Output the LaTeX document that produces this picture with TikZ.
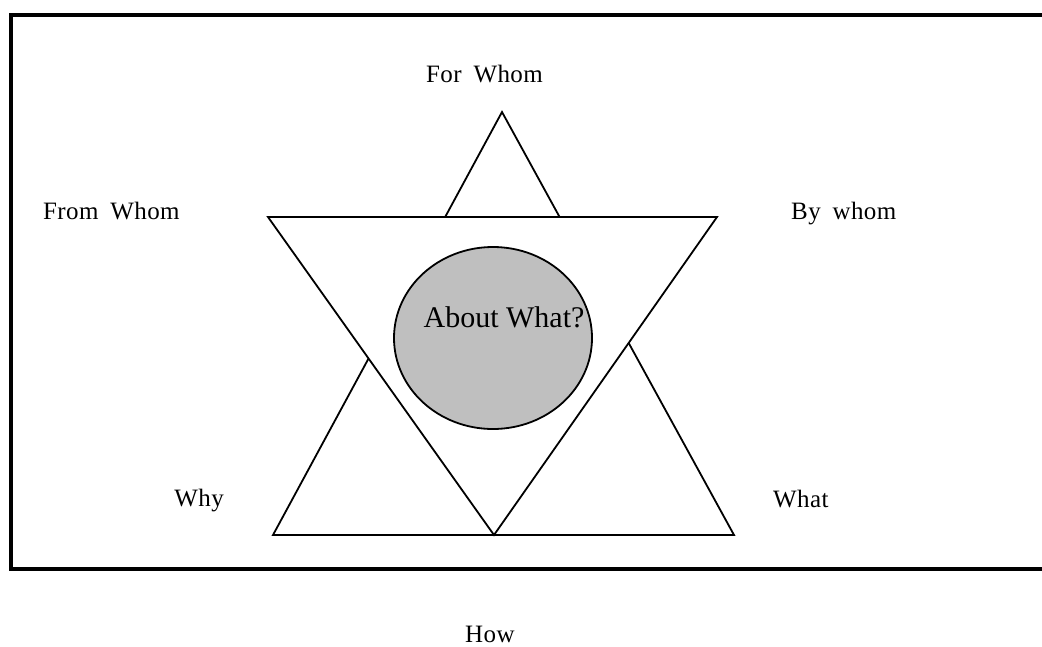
\documentclass[tikz,border=0pt]{standalone}
\usepackage{fontspec}
\setmainfont{Liberation Serif}
\newfontfamily\lblfont{Liberation Serif}[WordSpace=1.8,LetterSpace=1.5]
\usetikzlibrary{shapes.geometric}
\begin{document}
\begin{tikzpicture}[x=1pt,y=-1pt,
  tri/.style={draw=black,line width=1.8pt,line join=miter},
  lbl/.style={inner sep=0pt,font=\lblfont\fontsize{25}{30}\selectfont},
  hub/.style={ellipse,draw=black,line width=1.8pt,fill=gray!50!white,minimum width=198pt,minimum height=182pt,inner sep=0pt}]
\useasboundingbox (0,0) rectangle (1042,646);
\fill[white] (0,0) rectangle (1042,646);
% outer frame
\draw[line width=4pt] (1060,15) -- (10.5,15) -- (10.5,569) -- (1060,569);
% upward triangle
\coordinate (ua) at (502,112);
\coordinate (ul) at (273,535);
\coordinate (ur) at (734,535);
\draw[tri] (ua) -- (ul) -- (ur) -- cycle;
% downward triangle, white-filled on top
\coordinate (dl) at (268,217);
\coordinate (dr) at (717,217);
\coordinate (db) at (494,535);
\filldraw[tri,fill=white] (dl) -- (dr) -- (db) -- cycle;
% centre ellipse
\node[hub] (hub) at (493,338) {};
\node[inner sep=0pt,anchor=base,font=\fontsize{30}{36}\selectfont] (about) at (504,327) {About What?};
% labels
\node[lbl,anchor=base west] (forwhom) at (426,82) {For Whom};
\node[lbl,anchor=base west] (fromwhom) at (43,219) {From Whom};
\node[lbl,anchor=base west] (bywhom) at (791,219) {By whom};
\node[lbl,anchor=base east] (why) at (224,506) {Why};
\node[lbl,anchor=base west] (what) at (773,507) {What};
\node[lbl,anchor=base west] (how) at (465,642) {How};
\end{tikzpicture}
\end{document}
